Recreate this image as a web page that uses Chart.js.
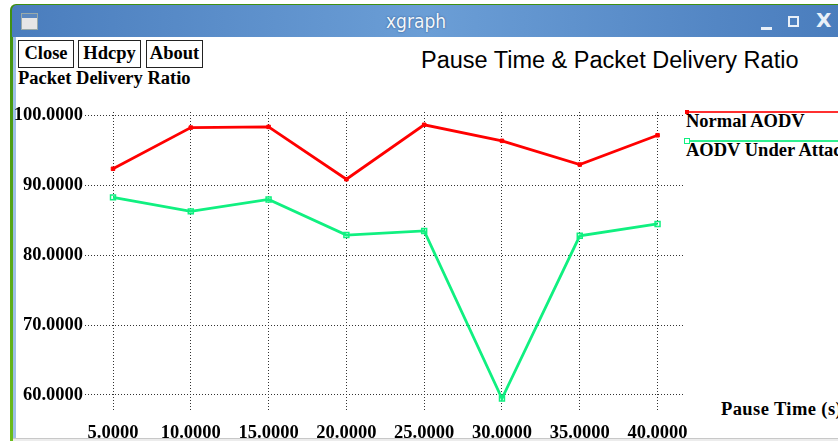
<!DOCTYPE html>
<html>
<head>
<meta charset="utf-8">
<script src="https://cdn.jsdelivr.net/npm/chart.js@4/dist/chart.umd.min.js"></script>
<style>
  html, body { margin:0; padding:0; width:838px; height:441px; overflow:hidden; background:#fff; }
  #win { position:absolute; left:10px; top:4px; width:840px; height:437px; background:linear-gradient(#3f8f10,#6cbc1c); border-radius:6px 6px 0 0; }
  #bar { position:absolute; left:12px; top:5px; width:830px; height:32px; border-radius:5px 5px 0 0;
         background:linear-gradient(to right,#4a7dbd 0%,#6b9ed6 50%,#5386c4 85%,#4a7dbd 100%); }
  #bar .t { position:absolute; left:0; width:830px; top:5px; text-align:center; padding-right:22px; box-sizing:border-box;
            font:19px "DejaVu Sans Condensed","DejaVu Sans",sans-serif; color:#f4f8fc; text-shadow:0 0 2px #2a4e80; }
  #icon { position:absolute; left:9px; top:8px; width:17px; height:17px; background:#e6e6e6; border:1px solid #9aa; box-sizing:border-box; }
  #icon::before { content:""; position:absolute; left:0; top:0; right:0; height:4px; background:#5b88c0; }
  .wb { position:absolute; color:#e9f0f8; }
  #content { position:absolute; left:16px; top:37px; width:830px; height:401px; background:#fff; }
  #strip { position:absolute; left:13px; top:37px; width:3px; height:402px; background:#9ec0e6; }
  #bottom { position:absolute; left:13px; top:438px; width:830px; height:1px; background:#c8c8c8; }
  #bottom2 { position:absolute; left:13px; top:439px; width:830px; height:2px; background:#ececec; }
  .btn { position:absolute; top:40px; height:28px; border:1.5px solid #222; box-sizing:border-box;
         font:bold 18.5px "Liberation Serif",serif; line-height:25px; text-align:center; color:#000; background:#fff; }
  .lbl { position:absolute; font:bold 18.5px "Liberation Serif",serif; color:#000; white-space:nowrap; }
  #title { position:absolute; left:421px; top:47px; font:23.5px "Liberation Sans",Arial,sans-serif; color:#000; white-space:nowrap; }
  .lgline { position:absolute; height:2px; }
  canvas { position:absolute; left:0; top:0; }
</style>
</head>
<body>
<div id="win"></div>
<div id="bar"><div id="icon"></div><div class="t">xgraph</div>
  <div class="wb" style="left:749px;top:22px;width:11px;height:3px;background:#e9f0f8;"></div>
  <div class="wb" style="left:776px;top:11px;width:11px;height:11px;border:2px solid #e9f0f8;box-sizing:border-box;"></div>
  <div class="wb" style="left:804px;top:3px;font:bold 20px 'DejaVu Sans',sans-serif;">X</div>
</div>
<div id="content"></div>
<div id="strip"></div>
<div id="bottom"></div><div id="bottom2"></div>
<div class="btn" style="left:18px;width:56px;">Close</div>
<div class="btn" style="left:78px;width:63px;">Hdcpy</div>
<div class="btn" style="left:146px;width:57px;">About</div>
<div class="lbl" style="left:18px;top:68px;">Packet Delivery Ratio</div>
<div id="title">Pause Time &amp; Packet Delivery Ratio</div>
<div class="lgline" style="left:686px;top:111px;width:160px;background:#ff3030;"></div>
<div style="position:absolute;left:685px;top:110px;width:4px;height:4px;background:#ff0000;"></div>
<div class="lbl" style="left:686px;top:111px;">Normal AODV</div>
<div class="lgline" style="left:690px;top:140px;width:160px;background:#30f090;"></div>
<div style="position:absolute;left:684px;top:138px;width:6px;height:6px;border:1.5px solid #10f080;box-sizing:border-box;"></div>
<div class="lbl" style="left:686px;top:140px;">AODV Under Attack</div>
<div class="lbl" style="left:721px;top:399px;letter-spacing:0.4px;">Pause Time (s)</div>
<canvas id="c" width="838" height="441"></canvas>
<script>
const pauseTimes = [5, 10, 15, 20, 25, 30, 35, 40];
const normalAodv = [92.4, 98.3, 98.4, 90.9, 98.7, 96.4, 93.0, 97.2];
const aodvUnderAttack = [88.3, 86.3, 88.0, 82.9, 83.5, 59.5, 82.8, 84.5];
const yTicks = [60, 70, 80, 90, 100];
const seriesNames = ['Normal AODV', 'AODV Under Attack'];

const tickFont = { family: 'Liberation Serif', weight: 'bold', size: 18.5 };
const gridStyle = { color: '#333', lineWidth: 1, drawTicks: false };
const borderStyle = { display: false, dash: [1, 2] };

new Chart(document.getElementById('c'), {
  type: 'line',
  data: {
    datasets: [
      {
        label: seriesNames[0],
        data: pauseTimes.map((x, i) => ({ x: x, y: normalAodv[i] })),
        borderColor: '#ff0000', backgroundColor: '#ff0000',
        borderWidth: 2.8, tension: 0,
        pointStyle: 'rect', pointRadius: 2.5, pointBorderWidth: 1
      },
      {
        label: seriesNames[1],
        data: pauseTimes.map((x, i) => ({ x: x, y: aodvUnderAttack[i] })),
        borderColor: '#10f080', backgroundColor: 'rgba(0,0,0,0)',
        borderWidth: 2.8, tension: 0,
        pointStyle: 'rect', pointRadius: 3.5, pointBorderWidth: 1.5
      }
    ]
  },
  options: {
    responsive: false,
    animation: false,
    clip: false,
    layout: { padding: { left: 0, right: 154, top: 112, bottom: 0 } },
    plugins: { legend: { display: false }, tooltip: { enabled: false } },
    scales: {
      x: {
        type: 'linear', min: 3.2, max: 41.7,
        afterBuildTicks: s => { s.ticks = pauseTimes.map(v => ({ value: v })); },
        afterFit: s => { s.height = 31; },
        border: borderStyle,
        grid: gridStyle,
        ticks: { font: tickFont, color: '#000', padding: 12, maxRotation: 0, autoSkip: false,
                 callback: v => Number(v).toFixed(4) }
      },
      y: {
        type: 'linear', min: 57.85, max: 100.53,
        afterBuildTicks: s => { s.ticks = yTicks.map(v => ({ value: v })); },
        afterFit: s => { s.width = 85; },
        border: borderStyle,
        grid: gridStyle,
        ticks: { font: tickFont, color: '#000', padding: 2,
                 callback: v => Number(v).toFixed(4) }
      }
    }
  }
});
</script>
</body>
</html>
